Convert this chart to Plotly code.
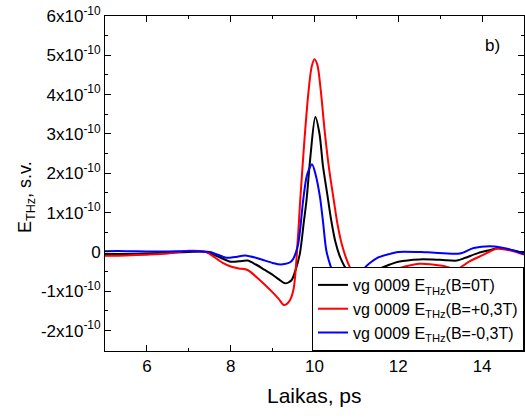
import plotly.graph_objects as go

# Time (ps) and field values (units of 1e-10)
t_black = [5.0, 5.5, 6.0, 6.5, 7.0, 7.4, 7.7, 8.0, 8.2, 8.4, 8.6, 8.8, 9.0, 9.15, 9.3, 9.45,
           9.55, 9.65, 9.75, 9.81, 9.9, 10.02, 10.12, 10.2, 10.3, 10.4, 10.5, 10.6, 10.75, 10.9,
           11.05, 11.2, 11.5, 11.8, 12.0, 12.5, 13.0, 13.4, 13.6, 13.9, 14.2, 14.4, 14.7, 15.0]
v_black = [-0.05, -0.05, -0.04, -0.02, 0.0, 0.0, -0.12, -0.25, -0.24, -0.22, -0.32, -0.45, -0.58,
           -0.7, -0.8, -0.72, -0.45, -0.05, 0.8, 1.32, 2.4, 3.43, 3.0, 2.2, 1.5, 0.8, 0.25, -0.1,
           -0.42, -0.58, -0.62, -0.58, -0.45, -0.32, -0.25, -0.19, -0.2, -0.22, -0.15, -0.03, 0.05,
           0.1, 0.05, -0.03]

t_red = [5.0, 5.5, 6.0, 6.5, 7.0, 7.4, 7.8, 8.0, 8.2, 8.4, 8.7, 9.0, 9.15, 9.27, 9.4, 9.5, 9.6,
         9.66, 9.75, 9.85, 9.93, 10.0, 10.07, 10.15, 10.25, 10.35, 10.46, 10.55, 10.65, 10.77,
         10.9, 11.05, 11.3, 11.6, 11.8, 12.0, 12.5, 13.05, 13.4, 13.7, 14.0, 14.35, 14.7, 15.0]
v_red = [-0.1, -0.09, -0.07, -0.04, 0.03, 0.0, -0.27, -0.37, -0.42, -0.46, -0.72, -1.03, -1.2,
         -1.35, -1.25, -0.95, 0.3, 1.32, 2.7, 4.0, 4.7, 4.9, 4.75, 4.1, 3.0, 2.1, 1.32, 0.7, 0.2,
         -0.2, -0.5, -0.68, -0.8, -0.68, -0.5, -0.42, -0.3, -0.35, -0.43, -0.24, -0.09, 0.08,
         0.03, -0.07]

t_blue = [5.0, 5.5, 6.0, 6.5, 7.0, 7.5, 7.9, 8.1, 8.35, 8.7, 9.0, 9.2, 9.45, 9.6, 9.73, 9.82,
          9.94, 10.03, 10.13, 10.2, 10.28, 10.38, 10.47, 10.6, 10.75, 10.9, 11.0, 11.15, 11.3,
          11.5, 11.8, 12.0, 12.7, 13.47, 13.8, 14.3, 14.6, 15.0]
v_blue = [0.02, 0.02, 0.01, 0.01, 0.02, 0.0, -0.15, -0.13, -0.09, -0.18, -0.28, -0.32, -0.24,
          0.15, 1.32, 1.95, 2.23, 1.95, 1.4, 0.8, 0.05, -0.35, -0.6, -0.8, -0.85, -0.75, -0.62,
          -0.45, -0.3, -0.15, -0.05, 0.0, -0.01, -0.04, 0.1, 0.14, 0.08, -0.05]

series = [
    ("vg 0009 E<sub>THz</sub>(B=0T)", t_black, v_black, "#000000"),
    ("vg 0009 E<sub>THz</sub>(B=+0,3T)", t_red, v_red, "#ff0000"),
    ("vg 0009 E<sub>THz</sub>(B=-0,3T)", t_blue, v_blue, "#0000ff"),
]

y_tick_units = [-2, -1, 0, 1, 2, 3, 4, 5, 6]
y_tick_text = ["0" if u == 0 else f"{u}x10<sup>-10</sup>" for u in y_tick_units]
x_tick_vals = [6, 8, 10, 12, 14]

FONT = "Liberation Sans, Arial, sans-serif"

fig = go.Figure()
for name, t, v, c in series:
    fig.add_trace(go.Scatter(
        x=t, y=[val * 1e-10 for val in v], mode="lines", name=name,
        line=dict(color=c, width=2, shape="spline", smoothing=0.8),
    ))

axis_common = dict(
    showline=True, linecolor="black", linewidth=1, mirror="allticks",
    ticks="inside", ticklen=6, tickwidth=1, tickcolor="black",
    showgrid=False, zeroline=False,
    tickfont=dict(family=FONT, size=17, color="black"),
)

fig.update_xaxes(range=[5, 15], tickvals=x_tick_vals,
                 minor=dict(ticks="inside", ticklen=3, dtick=1, tick0=5, tickcolor="black", showgrid=False),
                 **axis_common)
fig.update_yaxes(range=[-2.52e-10, 6e-10],
                 tickvals=[u * 1e-10 for u in y_tick_units], ticktext=y_tick_text,
                 minor=dict(ticks="inside", ticklen=3, dtick=0.5e-10, tick0=0, tickcolor="black", showgrid=False),
                 **axis_common)

fig.update_layout(
    width=525, height=419,
    margin=dict(l=105, r=1, t=16, b=68),
    paper_bgcolor="white", plot_bgcolor="white",
    font=dict(family=FONT, color="black"),
    showlegend=True,
    legend=dict(x=1, y=0, xanchor="right", yanchor="bottom",
                bgcolor="white", bordercolor="black", borderwidth=1,
                font=dict(family=FONT, size=16, color="black"),
                tracegroupgap=0, itemwidth=30),
    annotations=[
        dict(text="b)", xref="paper", yref="paper", x=(492 - 105) / 419, y=(351 - 45) / 335,
             showarrow=False, font=dict(family=FONT, size=17, color="black"),
             xanchor="center", yanchor="middle"),
        dict(text="Laikas, ps", xref="paper", yref="paper", x=0.5, y=-(395 - 351) / 335,
             showarrow=False, font=dict(family=FONT, size=21, color="black"),
             xanchor="center", yanchor="middle"),
        dict(text="E<sub>THz</sub>, s.v.", xref="paper", yref="paper",
             x=(26 - 105) / 419, y=(351 - 197) / 335, textangle=-90,
             showarrow=False, font=dict(family=FONT, size=18, color="black"),
             xanchor="center", yanchor="middle"),
    ],
)

fig.write_html("out.html")
